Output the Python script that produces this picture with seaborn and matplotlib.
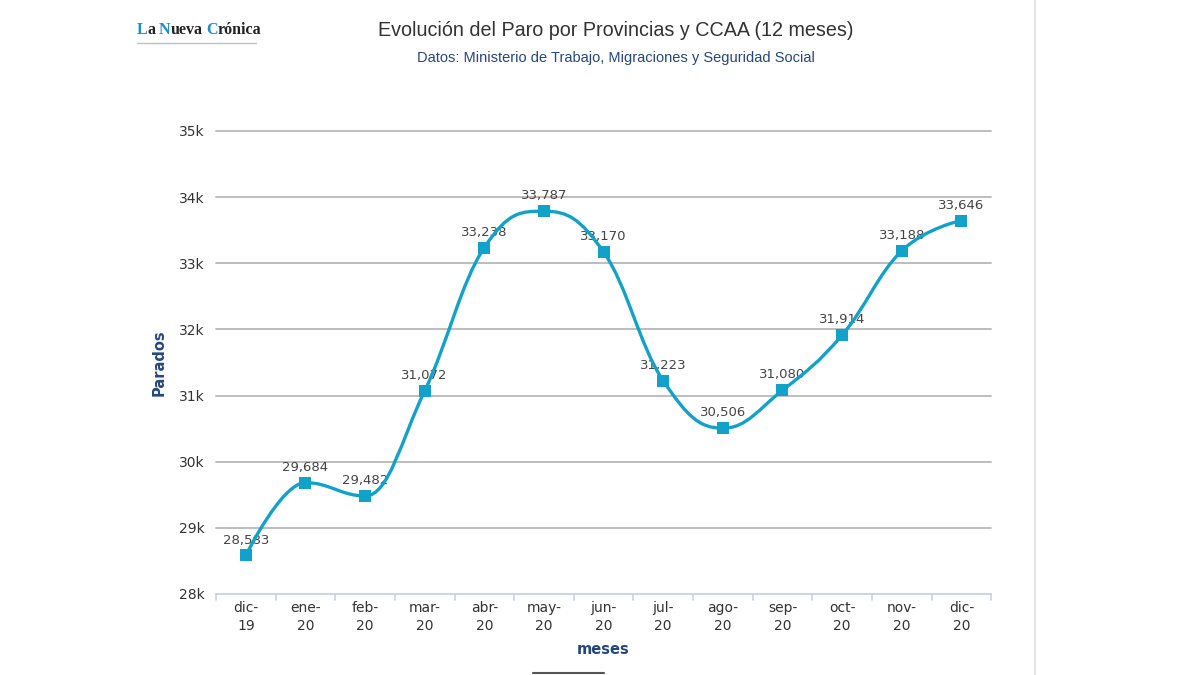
import seaborn as sns
import matplotlib.pyplot as plt
import pandas as pd
from matplotlib.path import Path
from matplotlib.patches import PathPatch
from matplotlib.lines import Line2D

meses = ["dic-\n19", "ene-\n20", "feb-\n20", "mar-\n20", "abr-\n20", "may-\n20", "jun-\n20",
         "jul-\n20", "ago-\n20", "sep-\n20", "oct-\n20", "nov-\n20", "dic-\n20"]
parados = [28583, 29684, 29482, 31072, 33238, 33787, 33170,
           31223, 30506, 31080, 31914, 33188, 33646]
yticks = [28000, 29000, 30000, 31000, 32000, 33000, 34000, 35000]
ytick_labels = ["28k", "29k", "30k", "31k", "32k", "33k", "34k", "35k"]

LINE = "#12a2c9"
TXT = "#333333"
BLUE = "#24477f"


def spline_path(xs, ys, smoothing=1.5):
    # highcharts-like spline: bezier control points from neighbours
    denom = smoothing + 1
    n = len(xs)
    left = [None] * n
    right = [None] * n
    for i in range(1, n - 1):
        px, py = xs[i], ys[i]
        lx, ly = xs[i - 1], ys[i - 1]
        nx, ny = xs[i + 1], ys[i + 1]
        lcx = (smoothing * px + lx) / denom
        lcy = (smoothing * py + ly) / denom
        rcx = (smoothing * px + nx) / denom
        rcy = (smoothing * py + ny) / denom
        if rcx != lcx:
            corr = (rcy - lcy) * (rcx - px) / (rcx - lcx) + py - rcy
            lcy += corr
            rcy += corr
        if lcy > ly and lcy > py:
            lcy = max(ly, py)
            rcy = 2 * py - lcy
        elif lcy < ly and lcy < py:
            lcy = min(ly, py)
            rcy = 2 * py - lcy
        if rcy > ny and rcy > py:
            rcy = max(ny, py)
            lcy = 2 * py - rcy
        elif rcy < ny and rcy < py:
            rcy = min(ny, py)
            lcy = 2 * py - rcy
        left[i] = (lcx, lcy)
        right[i] = (rcx, rcy)
    verts = [(xs[0], ys[0])]
    codes = [Path.MOVETO]
    for i in range(1, n):
        c1 = right[i - 1] if right[i - 1] else (xs[i - 1], ys[i - 1])
        c2 = left[i] if left[i] else (xs[i], ys[i])
        verts += [c1, c2, (xs[i], ys[i])]
        codes += [Path.CURVE4] * 3
    return Path(verts, codes)


def main():
    sns.set_style("white")
    plt.rcParams["font.family"] = ["DejaVu Sans"]
    df = pd.DataFrame({"pos": range(len(meses)), "parados": parados})

    fig = plt.figure(figsize=(12, 6.75), dpi=100)
    ax = fig.add_axes([0.18, 0.12, 0.646, 0.686])

    # data labels sit behind the line
    for x, y in zip(df["pos"], df["parados"]):
        ax.annotate(f"{y:,}", (x, y), xytext=(0, 11), textcoords="offset points",
                    ha="center", va="center", fontsize=9.5, color="#444444", zorder=2)

    ax.add_patch(PathPatch(spline_path(list(df["pos"]), list(df["parados"])),
                           fill=False, edgecolor=LINE, lw=2.4, zorder=3))
    sns.scatterplot(data=df, x="pos", y="parados", marker="s", s=78, color=LINE,
                    edgecolor=LINE, linewidth=0, ax=ax, zorder=4)

    ax.set_xlim(-0.5, len(meses) - 0.5)
    ax.set_ylim(28000, 35000)
    ax.set_yticks(yticks)
    ax.set_yticklabels(ytick_labels, fontsize=10, color=TXT)
    ax.set_xticks(range(len(meses)))
    ax.set_xticklabels(meses, fontsize=10, color=TXT, linespacing=1.4)
    ax.tick_params(axis="x", length=0, pad=5)
    ax.tick_params(axis="y", length=0, pad=8)
    for yy in yticks[1:]:
        ax.axhline(yy, color="#b8b8b8", lw=1.3, zorder=1, clip_on=False)
    for s in ["top", "right", "left"]:
        ax.spines[s].set_visible(False)
    ax.spines["bottom"].set_color("#c7d3e3")
    ax.spines["bottom"].set_linewidth(1.3)
    # category boundary ticks
    for b in range(len(meses) + 1):
        ax.plot([b - 0.5, b - 0.5], [0, -0.012], transform=ax.get_xaxis_transform(),
                color="#c7d3e3", lw=1.2, clip_on=False)

    ax.set_xlabel("meses", fontsize=10.5, fontweight="bold", color=BLUE, labelpad=6)
    ax.set_ylabel("Parados", fontsize=10.5, fontweight="bold", color=BLUE, labelpad=9)

    fig.text(0.513, 0.955, "Evolución del Paro por Provincias y CCAA (12 meses)",
             ha="center", va="center", fontsize=14.2, color=TXT, family="Liberation Sans")
    fig.text(0.513, 0.914, "Datos: Ministerio de Trabajo, Migraciones y Seguridad Social",
             ha="center", va="center", fontsize=10.5, color=BLUE, family="Liberation Sans")

    # logo
    x0 = 0.114
    fig.canvas.draw()
    for part, col, gap in [("L", "#1b8fc6", 0), ("a", "#222222", 0.003), ("N", "#1b8fc6", 0),
                           ("ueva", "#222222", 0.003), ("C", "#1b8fc6", 0), ("rónica", "#222222", 0)]:
        t = fig.text(x0, 0.956, part, ha="left", va="center", fontsize=11.5,
                     fontweight="bold", color=col, family="Liberation Serif")
        bb = t.get_window_extent(renderer=fig.canvas.get_renderer())
        x0 += bb.width / fig.bbox.width + gap
    fig.add_artist(Line2D([0.114, 0.213], [0.937, 0.937], color="#c0c0c0", lw=1.0))

    # page decorations
    fig.add_artist(Line2D([0.8625, 0.8625], [0, 1], color="#e6e6e6", lw=1.5))
    fig.add_artist(Line2D([0.444, 0.503], [0.003, 0.003], color="#555555", lw=1.5))

    fig.savefig("out.png", dpi=100)


if __name__ == "__main__":
    main()
